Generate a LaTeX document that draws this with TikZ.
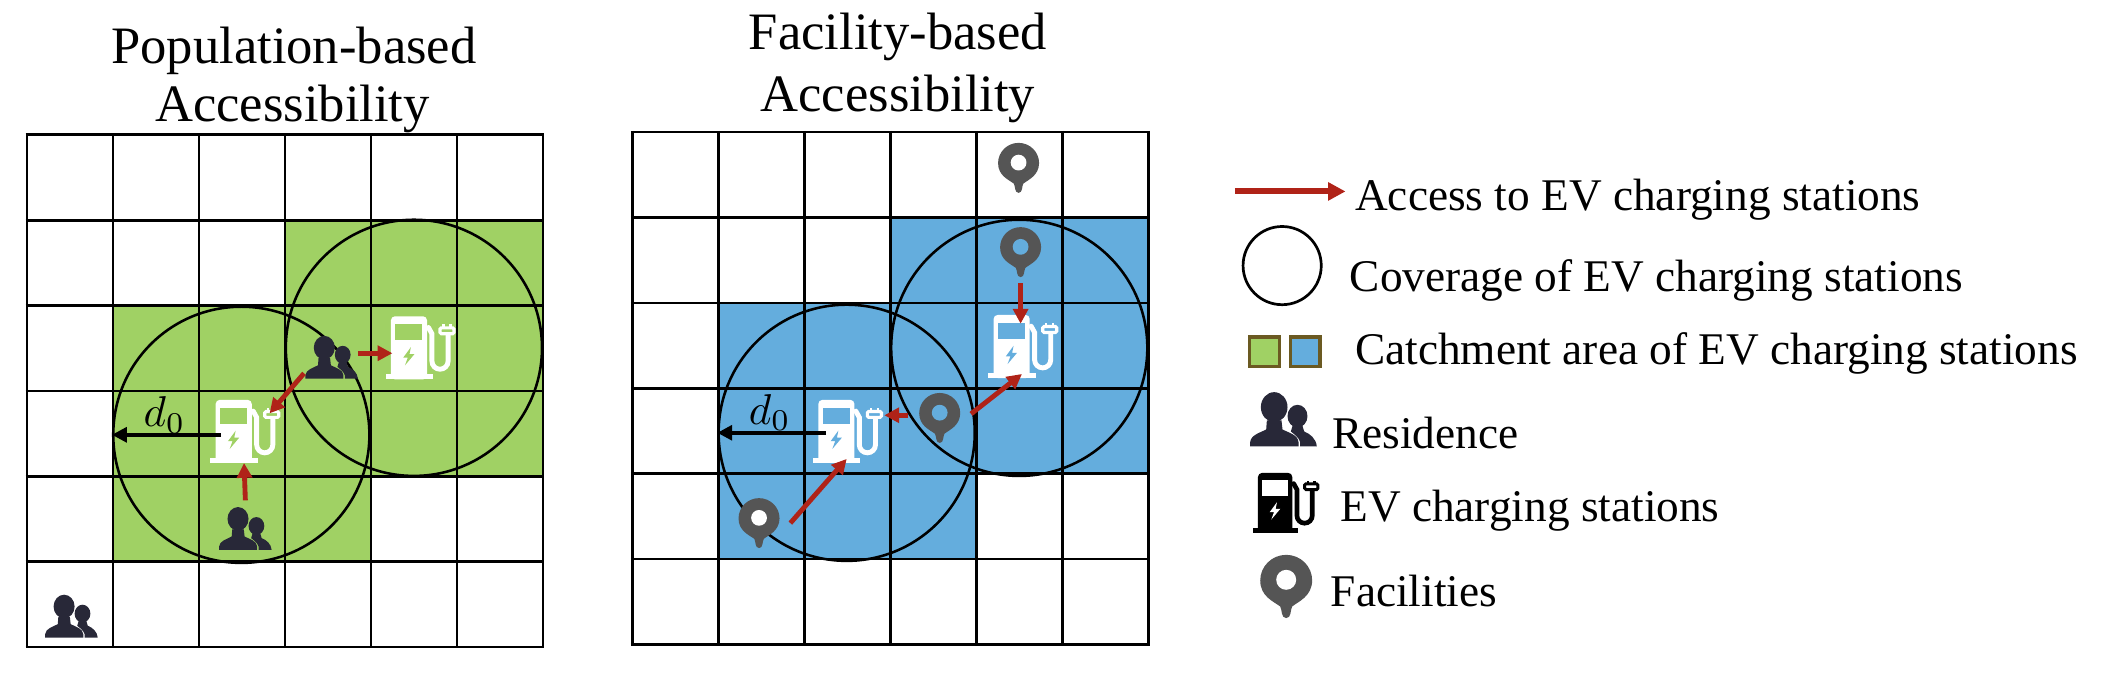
\documentclass[tikz,border=0pt]{standalone}
\usepackage{fontspec}
\setmainfont{Liberation Serif}
\usetikzlibrary{arrows.meta}

\definecolor{catchgreen}{HTML}{A0D164}
\definecolor{catchblue}{HTML}{64ADDD}
\definecolor{accessred}{HTML}{B02318}
\definecolor{peopledark}{HTML}{282838}
\definecolor{pingrey}{HTML}{555555}
\definecolor{swatchedge}{HTML}{6B5A22}

\tikzset{
	gridline/.style={black, line width=2pt},
	coverage/.style={draw=black, circle, line width=1.9pt, minimum size=190pt, inner sep=0pt},
	access/.style={accessred, line width=3.6pt, -{Triangle[length=11pt,width=11pt]}},
	radius0/.style={black, line width=2.6pt, -{Triangle[length=11pt,width=11pt]}},
	icon/.style={inner sep=0pt, outer sep=0pt},
	titletext/.style={anchor=base, inner sep=0pt, font=\fontsize{39}{42}\selectfont},
	legendtext/.style={anchor=base west, inner sep=0pt, font=\fontsize{33.6}{38}\selectfont},
	swatch/.style={draw=swatchedge, line width=2.4pt, minimum size=22pt, inner sep=0pt},
}

%% Icons are small pictures, set as the text of a node
\newcommand{\PeopleIcon}[1]{\tikz[x=#1pt,y=-#1pt]{
	\path (0,0) rectangle (200,163);
	\fill [peopledark] (142,72) ellipse [x radius=30, y radius=34];
	\fill [peopledark] (150,163) -- (150,150) .. controls (146,135) and (130,125) .. (122,118) -- (128,98) -- (156,98) -- (162,118) .. controls (180,125) and (198,140) .. (200,163) -- cycle;
	\fill [peopledark] (72,45) ellipse [x radius=40, y radius=45];
	\fill [peopledark] (0,163) -- (0,150) .. controls (2,128) and (30,122) .. (48,112) -- (50,85) -- (94,85) -- (97,112) .. controls (116,122) and (143,128) .. (145,150) -- (145,163) -- cycle;
}}
\newcommand{\ChargerIcon}[3]{\tikz[x=#1pt,y=-#1pt]{
	\path (0,0) rectangle (195,180);
	\fill [#2, rounded corners=3pt] (15,180) -- (15,0) -- (118,0) -- (118,180) -- cycle; % pump body
	\fill [#2] (0,165) rectangle (135,180);
	\fill [#3] (28,22) rectangle (105,68);
	\fill [#3] (72,88) -- (50,118) -- (63,118) -- (55,140) -- (82,108) -- (68,108) -- cycle;
	\draw [#2, line width=#1*14pt, line cap=round] (122,32) -- (132,50) -- (132,128) arc [start angle=180, end angle=0, x radius=23, y radius=23] -- (178,50);
	\draw [#2, fill=#3, line width=#1*9pt, rounded corners=1pt] (155,33) rectangle (195,50);
	\draw [#2, line width=#1*7pt] (165,33) -- (165,23) (185,33) -- (185,23);
}}
\newcommand{\PinIcon}[2]{\tikz[x=#1pt,y=-#1pt]{
	\path (0,0) rectangle (155,190);
	\fill [pingrey] (78,190) .. controls (62,190) and (66,165) .. (60,155) .. controls (40,140) and (0,125) .. (0,77) arc [start angle=180, end angle=0, x radius=78, y radius=-77] .. controls (155,125) and (115,140) .. (96,155) .. controls (90,165) and (94,190) .. (78,190) -- cycle;
	\fill [#2] (78,75) circle [radius=30];
}}

\begin{document}
\begin{tikzpicture}[x=1pt,y=-1pt]
	\useasboundingbox (0,0) rectangle (1568,510);

	%% Catchment areas
	\fill [catchgreen] (212,164) rectangle (403,353);
	\fill [catchgreen] (84,227) rectangle (275,416);
	\fill [catchblue] (661,162) rectangle (852,351);
	\fill [catchblue] (533,225) rectangle (724,414);

	%% The two grids
	\foreach \gx/\gy in {20/100, 469/98} {
		\foreach \i in {0,...,6} {
			\draw [gridline] (\gx+\i*63.8,\gy-1) -- (\gx+\i*63.8,\gy+381);
			\draw [gridline] (\gx-1,\gy+\i*63.33) -- (\gx+383.8,\gy+\i*63.33);
		}
	}

	%% Coverage circles
	\node at (179,322.5) [coverage] (covA) {};
	\node at (307,258) [coverage] (covB) {};
	\node at (628,321) [coverage] (covC) {};
	\node at (756,258) [coverage] (covD) {};

	%% Titles
	\node at (218,47) [titletext] (titlepop) {Population-based};
	\node at (217,90) [titletext] (titlepopb) {Accessibility};
	\node at (666,37) [titletext] (titlefac) {Facility-based};
	\node at (666,83) [titletext] (titlefacb) {Accessibility};

	%% Left panel
	\node at (182,320) [icon] (chgA) {\ChargerIcon{0.26}{white}{catchgreen}};
	\node at (312,258) [icon] (chgB) {\ChargerIcon{0.26}{white}{catchgreen}};
	\node at (182,392) [icon] (resA) {\PeopleIcon{0.195}};
	\node at (246,265) [icon] (resB) {\PeopleIcon{0.195}};
	\node at (53,457) [icon] (resC) {\PeopleIcon{0.195}};
	\node at (122,308) [scale=3.2, inner sep=0pt] (dA) {$d_0$};

	\draw [radius0] ([shift={(8,2.5)}]chgA.west) -- (covA.west);
	\draw [access] ([yshift=5pt]resA.north) -- ([xshift=-1pt]chgA.south);
	\draw [access] ([shift={(-1,-4)}]resB.south west) -- ([shift={(-8,10)}]chgA.north east);
	\draw [access] ([shift={(0,-3)}]resB.east) -- ([shift={(5,4)}]chgB.west);

	%% Right panel
	\node at (629,320) [icon] (chgC) {\ChargerIcon{0.26}{white}{catchblue}};
	\node at (759,257) [icon] (chgD) {\ChargerIcon{0.26}{white}{catchblue}};
	\node at (755.5,124.5) [icon] (pinA) {\PinIcon{0.195}{white}};
	\node at (757,187) [icon] (pinB) {\PinIcon{0.195}{catchblue}};
	\node at (697,310) [icon] (pinC) {\PinIcon{0.195}{catchblue}};
	\node at (563,388) [icon] (pinD) {\PinIcon{0.195}{white}};
	\node at (571,306) [scale=3.2, inner sep=0pt] (dB) {$d_0$};

	\draw [radius0] ([shift={(9.6,1)}]chgC.west) -- (covC.west);
	\draw [access] ([yshift=-4.5pt]pinB.south) -- ([shift={(-2,6.5)}]chgD.north);
	\draw [access] ([shift={(-8,-2)}]pinC.west) -- ([shift={(1,-12)}]chgC.east);
	\draw [access] ([shift={(8,-3)}]pinC.east) -- ([shift={(-1,-3)}]chgD.south);
	\draw [access] ([shift={(8,0)}]pinD.east) -- ([shift={(-1,-3)}]chgC.south);

	%% Legend
	\coordinate (legA) at (916,142);
	\coordinate (legB) at (998,142);
	\draw [access, line width=4.4pt, -{Triangle[length=13pt,width=13pt]}] (legA) -- (legB);
	\node at (1005,156.5) [legendtext] (txtaccess) {Access to EV charging stations};
	\node at (951,197) [draw, circle, line width=2pt, minimum size=58pt, inner sep=0pt] (legcirc) {};
	\node at (1001,216) [legendtext] (txtcover) {Coverage of EV charging stations};
	\node at (938,261) [swatch, fill=catchgreen] (leggreen) {};
	\node at (968,261) [swatch, fill=catchblue] (legblue) {};
	\node at (1005,270.5) [legendtext] (txtcatch) {Catchment area of EV charging stations};
	\node at (952,311) [icon] (legres) {\PeopleIcon{0.247}};
	\node at (988,333) [legendtext] (txtres) {Residence};
	\node at (954,373) [icon] (legchg) {\ChargerIcon{0.247}{black}{white}};
	\node at (994,387) [legendtext] (txtchg) {EV charging stations};
	\node at (954,435) [icon] (legpin) {\PinIcon{0.247}{white}};
	\node at (987,450) [legendtext] (txtfac) {Facilities};
\end{tikzpicture}
\end{document}
